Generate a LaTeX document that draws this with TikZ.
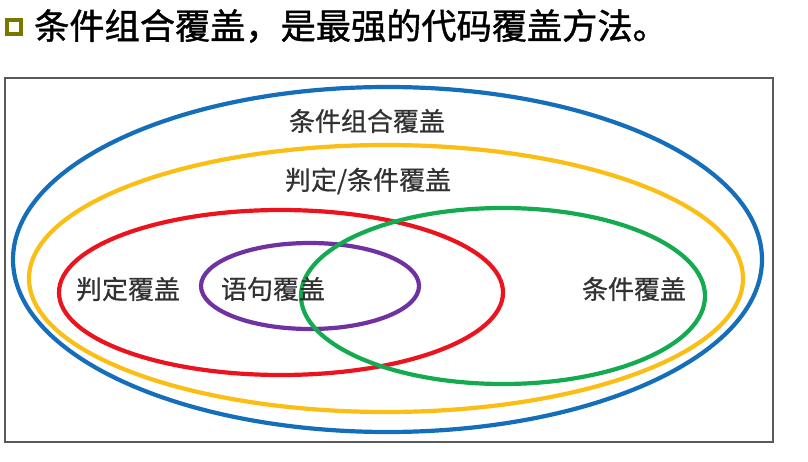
\documentclass[tikz,border=0pt]{standalone}
\usepackage{fontspec}
\newfontfamily\cjkhead[FakeBold=1.2]{Noto Sans CJK SC}
\newfontfamily\cjklabel[FakeBold=0.6]{Noto Sans CJK SC}
\definecolor{ringblue}{RGB}{20,110,185}
\definecolor{ringyellow}{RGB}{250,190,20}
\definecolor{ringred}{RGB}{235,20,30}
\definecolor{ringpurple}{RGB}{112,50,160}
\definecolor{ringgreen}{RGB}{20,170,80}
\definecolor{bulletolive}{RGB}{120,120,0}
\definecolor{labelgray}{RGB}{50,50,50}
\definecolor{framegray}{RGB}{90,90,90}
\begin{document}
\begin{tikzpicture}[x=1pt,y=-1pt,
  ring/.style={line width=4.2pt},
  setlabel/.style={font=\cjklabel\fontsize{26}{26}\selectfont, text=labelgray, inner sep=0pt},
  headline/.style={font=\cjkhead\fontsize{35.2}{35.2}\selectfont, text=black, inner sep=0pt, anchor=west}]
\useasboundingbox (0,0) rectangle (808,462);
\fill[white] (0,0) rectangle (808,462);

% heading with square bullet
\draw[bulletolive, line width=3.5pt] (7,20) rectangle (21,34);
\node[headline] (title) at (34,26) {条件组合覆盖，是最强的代码覆盖方法。};

% frame around the diagram
\draw[framegray, line width=1.8pt] (5,78) rectangle (773,442);

% nested coverage sets
\draw[ring, ringblue]   (387.5,259.5) ellipse [x radius=374.5pt, y radius=172.5pt];
\draw[ring, ringyellow] (386,278.5) ellipse [x radius=357pt, y radius=133.5pt];
\draw[ring, ringred]    (281,292.5) ellipse [x radius=222pt, y radius=82.5pt];
\draw[ring, ringpurple] (310,286) ellipse [x radius=109pt, y radius=43pt];
\draw[ring, ringgreen]  (503,296) ellipse [x radius=202pt, y radius=88pt];

% set names
\node[setlabel] (combo)    at (367,121) {条件组合覆盖};
\node[setlabel] (deccond)  at (368,181) {判定/条件覆盖};
\node[setlabel] (decision) at (128,289) {判定覆盖};
\node[setlabel] (stmt)     at (273,289) {语句覆盖};
\node[setlabel] (cond)     at (634,289) {条件覆盖};
\end{tikzpicture}
\end{document}
